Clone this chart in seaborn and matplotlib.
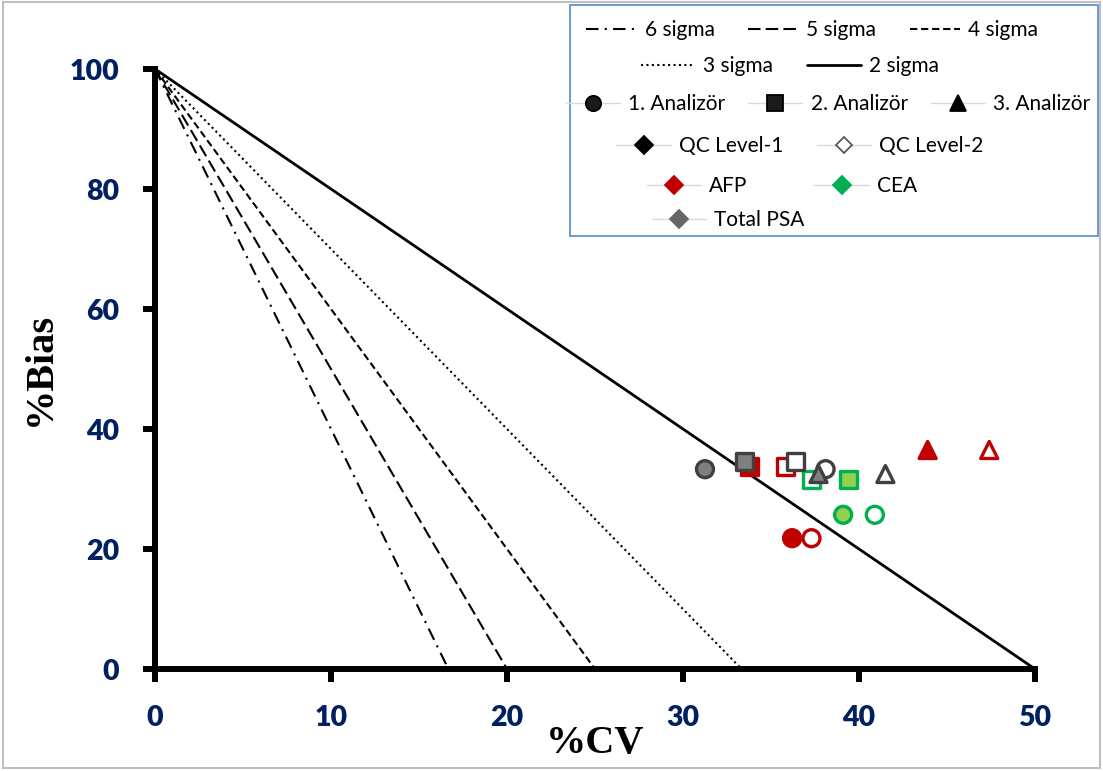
import numpy as np
import pandas as pd
import matplotlib
matplotlib.use("Agg")
import matplotlib.pyplot as plt
from matplotlib.lines import Line2D
from matplotlib.patches import Rectangle
import seaborn as sns

# ---------------- data ----------------
sigma_labels = ["6 sigma", "5 sigma", "4 sigma", "3 sigma", "2 sigma"]
sigma_cv_end = [16.67, 20.0, 25.0, 33.33, 50.0]   # %CV where each sigma line meets Bias = 0
tea = 100.0                                      # all lines start at (0, 100)

analyzers = ["1. Analizör", "1. Analizör", "1. Analizör", "1. Analizör", "1. Analizör", "1. Analizör",
             "2. Analizör", "2. Analizör", "2. Analizör", "2. Analizör", "2. Analizör", "2. Analizör",
             "3. Analizör", "3. Analizör", "3. Analizör", "3. Analizör"]
tests = ["AFP", "AFP", "CEA", "CEA", "Total PSA", "Total PSA",
         "AFP", "AFP", "CEA", "CEA", "Total PSA", "Total PSA",
         "AFP", "AFP", "Total PSA", "Total PSA"]
levels = ["QC Level-1", "QC Level-2"] * 8
cv_values = [36.2, 37.3, 39.1, 40.9, 31.25, 38.1,
             33.8, 35.8, 39.4, 37.3, 33.5, 36.4,
             43.9, 47.4, 37.7, 41.5]
bias_values = [21.8, 21.8, 25.7, 25.7, 33.3, 33.3,
               33.7, 33.7, 31.6, 31.6, 34.6, 34.6,
               36.5, 36.5, 32.5, 32.5]

x_ticks = [0, 10, 20, 30, 40, 50]
y_ticks = [0, 20, 40, 60, 80, 100]

df = pd.DataFrame({"CV": cv_values, "Bias": bias_values, "Analyzer": analyzers,
                   "Test": tests, "Level": levels})

# ---------------- styles ----------------
test_edge = {"AFP": "#C00000", "CEA": "#00B050", "Total PSA": "#404040"}
test_fill = {"AFP": "#C00000", "CEA": "#92D050", "Total PSA": "#7F7F7F"}
marker_map = {"1. Analizör": "o", "2. Analizör": "s", "3. Analizör": "^"}
sigma_styles = [(0, (6, 3, 1, 3)), (0, (6, 2.5)), (0, (3.5, 1.8)), (0, (1, 1.6)), "-"]
sigma_lw = [1.5, 1.5, 1.5, 1.5, 2.0]

sns.set_theme(style="white")
plt.rcParams["font.family"] = ["Lato", "DejaVu Sans"]

fig = plt.figure(figsize=(11.03, 7.71), dpi=100)
ax = fig.add_axes([155 / 1103, 1 - 669 / 771, 880 / 1103, 600 / 771])

# sigma lines
for lab, end, ls, lw in zip(sigma_labels, sigma_cv_end, sigma_styles, sigma_lw):
    sns.lineplot(x=[0.0, end], y=[tea, 0.0], ax=ax, color="black", linestyle=ls,
                 linewidth=lw, label=lab, legend=False, zorder=2)

# points
order = [("AFP", "QC Level-1"), ("AFP", "QC Level-2"), ("CEA", "QC Level-2"),
         ("CEA", "QC Level-1"), ("Total PSA", "QC Level-2"), ("Total PSA", "QC Level-1")]
for test, level in order:
    sub = df[(df.Test == test) & (df.Level == level)]
    face = test_fill[test] if level == "QC Level-1" else "white"
    sns.scatterplot(data=sub, x="CV", y="Bias", style="Analyzer", markers=marker_map,
                    style_order=list(marker_map.keys()), ax=ax, s=150, color=face,
                    edgecolor=test_edge[test], linewidth=2.4, legend=False, zorder=3)

ax.set_xlim(0, 50)
ax.set_ylim(0, 100)
ax.set_xticks(x_ticks)
ax.set_yticks(y_ticks)
sns.despine(ax=ax)
for sp in ["left", "bottom"]:
    ax.spines[sp].set_linewidth(4.3)
    ax.spines[sp].set_color("black")
    ax.spines[sp].set_capstyle("projecting")
ax.tick_params(axis="both", which="major", direction="out", length=9, width=4.3,
               color="black", labelsize=20.5, labelcolor="#002060", pad=17,
               bottom=True, left=True, top=False, right=False)
for t in ax.get_xticklabels() + ax.get_yticklabels():
    t.set_fontweight("heavy")
ax.grid(False)

ax.set_xlabel("%CV", fontfamily="Liberation Serif", fontweight="bold", fontsize=29, color="black")
ax.set_ylabel("%Bias", fontfamily="Liberation Serif", fontweight="bold", fontsize=29, color="black")
ax.xaxis.set_label_coords(0.5, (669 - 743) / 600)
ax.xaxis.label.set_va("center")
ax.yaxis.set_label_coords((40 - 155) / 880, 0.5)
ax.yaxis.label.set_va("center")

# ---------------- legend ----------------
W, H = 1103, 771
fig.patches.append(Rectangle((570 / W, 1 - 236 / H), 528 / W, 231 / H, transform=fig.transFigure,
                             facecolor="white", edgecolor="#6A9BD3", linewidth=1.4, zorder=5))


def fp(x, y):
    return (x / W, 1 - y / H)


line_handles = [Line2D([], [], color="black", linestyle=ls, linewidth=lw)
                for ls, lw in zip(sigma_styles, sigma_lw)]
lc = "#D9D9D9"


def mk(marker, face, edge, ms=11):
    return Line2D([], [], color=lc, linewidth=1.0, marker=marker, markersize=ms,
                  markerfacecolor=face, markeredgecolor=edge, markeredgewidth=1.3)


rows = [
    (line_handles[:3], sigma_labels[:3], (812, 30), 2.4, 1.6),
    (line_handles[3:], sigma_labels[3:], (790, 66), 2.6, 1.6),
    ([mk("o", "#1A1A1A", "black"), mk("s", "#1A1A1A", "black"), mk("^", "black", "black")],
     list(marker_map.keys()), (828, 104), 2.6, 1.1),
    ([mk("D", "black", "black", 9), mk("D", "white", "#595959", 8)],
     ["QC Level-1", "QC Level-2"], (800, 146), 2.6, 1.6),
    ([mk("D", "#C00000", "#C00000", 9), mk("D", "#00B050", "#00B050", 9)],
     ["AFP", "CEA"], (782, 186), 2.6, 3.2),
    ([mk("D", "#666666", "#666666", 9)], ["Total PSA"], (728, 220), 2.6, 1.6),
]
for handles, labels, (cx, cy), hl, cs in rows:
    leg = fig.legend(handles, labels, loc="center", bbox_to_anchor=fp(cx, cy),
                     ncol=len(labels), frameon=False, fontsize=15, handlelength=hl,
                     handletextpad=0.4, columnspacing=cs, borderpad=0, borderaxespad=0)
    leg.set_zorder(6)
    for t in leg.get_texts():
        t.set_color("black")

# outer frame
fig.patches.append(Rectangle((0.003, 0.004), 0.994, 0.994, transform=fig.transFigure,
                             facecolor="none", edgecolor="#BFBFBF", linewidth=1.5, zorder=0))

fig.savefig("out.png", dpi=100)
